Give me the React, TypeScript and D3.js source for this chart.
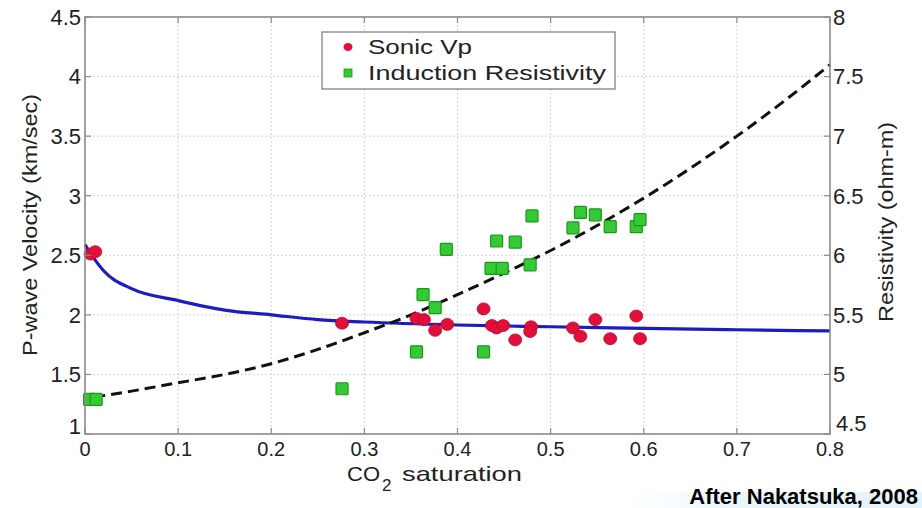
import React from "react";
import * as d3 from "d3";

// ---- data ----
const xTicks = [0, 0.1, 0.2, 0.3, 0.4, 0.5, 0.6, 0.7, 0.8];
const leftTicks = [1, 1.5, 2, 2.5, 3, 3.5, 4, 4.5];
const rightTicks = [4.5, 5, 5.5, 6, 6.5, 7, 7.5, 8];

const vpX = [0.006, 0.011, 0.276, 0.356, 0.364, 0.376, 0.389, 0.428, 0.437, 0.442, 0.449, 0.462, 0.479, 0.478, 0.524, 0.532, 0.548, 0.564, 0.592, 0.596];
const vpY = [2.51, 2.53, 1.93, 1.97, 1.96, 1.87, 1.92, 2.05, 1.91, 1.89, 1.91, 1.79, 1.9, 1.86, 1.89, 1.82, 1.96, 1.8, 1.99, 1.8];

const resX = [0.005, 0.012, 0.276, 0.356, 0.363, 0.376, 0.388, 0.428, 0.436, 0.442, 0.448, 0.462, 0.478, 0.48, 0.524, 0.532, 0.548, 0.564, 0.592, 0.596];
const resY = [4.79, 4.79, 4.88, 5.19, 5.67, 5.56, 6.05, 5.19, 5.89, 6.12, 5.89, 6.11, 5.92, 6.33, 6.23, 6.36, 6.34, 6.24, 6.24, 6.3];

const vpFitX = [0, 0.01, 0.02, 0.05, 0.1, 0.15, 0.2, 0.25, 0.3, 0.4, 0.5, 0.6, 0.7, 0.8];
const vpFitY = [2.59, 2.47, 2.37, 2.22, 2.12, 2.04, 2.0, 1.96, 1.94, 1.915, 1.9, 1.887, 1.875, 1.865];

const resFitX = [0.01, 0.05, 0.1, 0.15, 0.2, 0.25, 0.3, 0.35, 0.4, 0.45, 0.5, 0.55, 0.6, 0.65, 0.7, 0.75, 0.8];
const resFitY = [4.81, 4.86, 4.93, 5.0, 5.09, 5.21, 5.35, 5.5, 5.67, 5.85, 6.04, 6.25, 6.48, 6.73, 7.0, 7.29, 7.6];

const legendLabels = ["Sonic Vp", "Induction Resistivity"];

// ---- layout ----
const W = 922, H = 508;
const L = 85, R = 830, T = 17, B = 434;

export default function App() {
  const x = d3.scaleLinear().domain([0, 0.8]).range([L, R]);
  const yL = d3.scaleLinear().domain([1, 4.5]).range([B, T]);
  const yR = d3.scaleLinear().domain([4.5, 8]).range([B, T]);

  const vpLine = d3.line<number>().x((d, i) => x(vpFitX[i])).y((d) => yL(d)).curve(d3.curveMonotoneX);
  const resLine = d3.line<number>().x((d, i) => x(resFitX[i])).y((d) => yR(d)).curve(d3.curveMonotoneX);

  const font = "Liberation Sans, Arial, sans-serif";
  const red = "#e0103a";
  const green = "#35c935";
  const greenStroke = "#189a18";

  return (
    <svg width={W} height={H} style={{ position: "absolute", left: 0, top: 0, display: "block", background: "#fff" }} fontFamily={font}>
      <defs>
        <linearGradient id="bg" x1="0" y1="0" x2="1" y2="0">
          <stop offset="0" stopColor="#ffffff" stopOpacity="0" />
          <stop offset="0.4" stopColor="#e8f6fb" stopOpacity="1" />
          <stop offset="1" stopColor="#e3f3f9" stopOpacity="1" />
        </linearGradient>
      </defs>
      <rect x={0} y={0} width={W} height={H} fill="#fff" />
      <rect x={600} y={492} width={322} height={16} fill="url(#bg)" />

      {/* grid */}
      {xTicks.slice(1, -1).map((t) => (
        <line key={"gx" + t} x1={x(t)} x2={x(t)} y1={T} y2={B} stroke="#c8c8c8" strokeWidth={1} strokeDasharray="1.5,2.5" />
      ))}
      {leftTicks.slice(1, -1).map((t) => (
        <line key={"gy" + t} x1={L} x2={R} y1={yL(t)} y2={yL(t)} stroke="#c8c8c8" strokeWidth={1} strokeDasharray="1.5,2.5" />
      ))}

      {/* fits */}
      <path d={vpLine(vpFitY) || ""} fill="none" stroke="#1c1cc0" strokeWidth={3.2} />
      <path d={resLine(resFitY) || ""} fill="none" stroke="#111" strokeWidth={3} strokeDasharray="11,6" />

      {/* points */}
      {resX.map((v, i) => (
        <rect key={"g" + i} x={x(v) - 6} y={yR(resY[i]) - 6} width={12} height={12} fill={green} stroke={greenStroke} strokeWidth={1.2} rx={1} />
      ))}
      {vpX.map((v, i) => (
        <ellipse key={"r" + i} cx={x(v)} cy={yL(vpY[i])} rx={6.5} ry={6} fill={red} stroke="#c0082e" strokeWidth={0.8} />
      ))}

      {/* frame */}
      <rect x={L} y={T} width={R - L} height={B - T} fill="none" stroke="#8a8a8a" strokeWidth={1.6} />

      {/* ticks */}
      {xTicks.map((t) => (
        <g key={"xt" + t}>
          <line x1={x(t)} x2={x(t)} y1={B} y2={B - 6} stroke="#8a8a8a" strokeWidth={1.2} />
          <line x1={x(t)} x2={x(t)} y1={T} y2={T + 6} stroke="#8a8a8a" strokeWidth={1.2} />
          <text x={x(t)} y={456} textAnchor="middle" fontSize={20} fill="#222">{t === 0 ? "0" : String(t)}</text>
        </g>
      ))}
      {leftTicks.map((t) => (
        <g key={"yl" + t}>
          <line x1={L} x2={L + 6} y1={yL(t)} y2={yL(t)} stroke="#8a8a8a" strokeWidth={1.2} />
          <text x={81} y={yL(t) - (t === 1 ? 8 : 0)} dy="0.36em" textAnchor="end" fontSize={22} fill="#222">{String(t)}</text>
        </g>
      ))}
      {rightTicks.map((t) => (
        <g key={"yr" + t}>
          <line x1={R} x2={R - 6} y1={yR(t)} y2={yR(t)} stroke="#8a8a8a" strokeWidth={1.2} />
          <text x={t === 4.5 ? 836 : 833} y={yR(t) - (t === 4.5 ? 11 : 0)} dy="0.36em" textAnchor="start" fontSize={22} fill="#222">{String(t)}</text>
        </g>
      ))}

      {/* axis labels */}
      <text transform={`translate(37,225) rotate(-90)`} textAnchor="middle" fontSize={20} fill="#222" textLength={262} lengthAdjust="spacingAndGlyphs">P-wave Velocity (km/sec)</text>
      <text transform={`translate(893,222) rotate(-90)`} textAnchor="middle" fontSize={20} fill="#222" textLength={200} lengthAdjust="spacingAndGlyphs">Resistivity (ohm-m)</text>
      <text x={347} y={481} fontSize={21} fill="#222" textLength={33} lengthAdjust="spacingAndGlyphs">CO</text>
      <text x={382} y={491} fontSize={17} fill="#222">2</text>
      <text x={402} y={481} fontSize={21} fill="#222" textLength={120} lengthAdjust="spacingAndGlyphs">saturation</text>

      {/* legend */}
      <rect x={322} y={32} width={293} height={57} fill="#fff" stroke="#777" strokeWidth={1.2} />
      <ellipse cx={348} cy={47} rx={4.5} ry={4} fill={red} />
      <text x={368} y={54} fontSize={21} fill="#222" textLength={104} lengthAdjust="spacingAndGlyphs">{legendLabels[0]}</text>
      <rect x={344} y={69} width={8} height={8} fill={green} stroke={greenStroke} strokeWidth={0.8} />
      <text x={368} y={80} fontSize={21} fill="#222" textLength={238} lengthAdjust="spacingAndGlyphs">{legendLabels[1]}</text>

      {/* credit */}
      <text x={918} y={504} textAnchor="end" fontSize={22} fontWeight="bold" fill="#000">After Nakatsuka, 2008</text>
    </svg>
  );
}
